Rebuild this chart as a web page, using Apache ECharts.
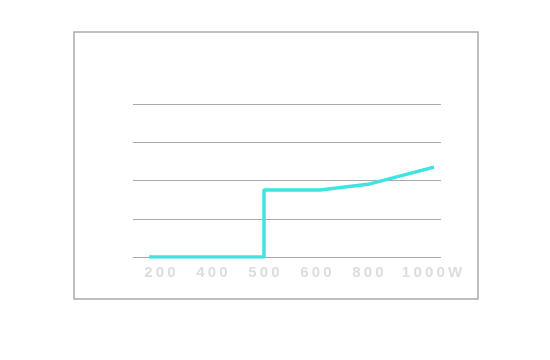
<!DOCTYPE html>
<html><head><meta charset="utf-8">
<script src="https://cdn.jsdelivr.net/npm/echarts@6/dist/echarts.min.js"></script>
<style>html,body{margin:0;padding:0;background:#fff}#c{width:550px;height:360px}</style>
</head><body><div id="c"></div>
<script>
var tickLabels = ['200', '400', '500', '600', '800', '1000W'];
// x in label-index units (0 = "200" ... 5 = "1000W"), y in grid units (0..4)
var lineX = [-0.21, 2.0, 2.0, 3.08, 4.0, 5.27];
var lineY = [0, 0, 1.75, 1.75, 1.9, 2.35];

var lineData = lineX.map(function (x, i) { return [x, lineY[i]]; });

function spaced(s, last) {
  var out = s.split('').map(function (ch) { return '{d|' + ch + '}'; }).join('');
  return last ? '{pad|}' + out : out;
}

var chart = echarts.init(document.getElementById('c'));
chart.setOption({
  animation: false,
  grid: [
    { left: 133, right: 109, top: 104, bottom: 103 },
    { left: 134, right: 104, top: 104, bottom: 103 },
    { left: 74, right: 72, top: 32, bottom: 61, show: true, borderColor: '#aaa', borderWidth: 1.5, backgroundColor: 'transparent' }
  ],
  xAxis: [
    { type: 'value', gridIndex: 0, min: -0.519, max: 5.404, show: false },
    { type: 'category', gridIndex: 1, data: tickLabels, boundaryGap: true,
      axisLine: { show: false }, axisTick: { show: false }, splitLine: { show: false },
      axisLabel: { interval: 0, hideOverlap: false, margin: 8, color: '#ddd', fontFamily: 'Liberation Sans', fontWeight: 'bold', fontSize: 15,
        formatter: function (v, i) { return spaced(v, i === tickLabels.length - 1); },
        rich: { d: { color: '#ddd', fontFamily: 'Liberation Sans', fontWeight: 'bold', fontSize: 15, padding: [0, 1.6, 0, 1.6] },
                pad: { width: 24, fontSize: 15 } } } },
    { type: 'value', gridIndex: 2, show: false }
  ],
  yAxis: [
    { type: 'value', gridIndex: 0, min: 0, max: 4, interval: 1,
      axisLine: { show: false }, axisTick: { show: false }, axisLabel: { show: false },
      splitLine: { show: true, lineStyle: { color: '#aaa', width: 1 } } },
    { type: 'value', gridIndex: 1, show: false },
    { type: 'value', gridIndex: 2, show: false }
  ],
  series: [{
    type: 'line', xAxisIndex: 0, yAxisIndex: 0, data: lineData,
    showSymbol: false, symbol: 'none',
    lineStyle: { color: '#40e3e0', width: 3.5 }
  }]
});
</script></body></html>
